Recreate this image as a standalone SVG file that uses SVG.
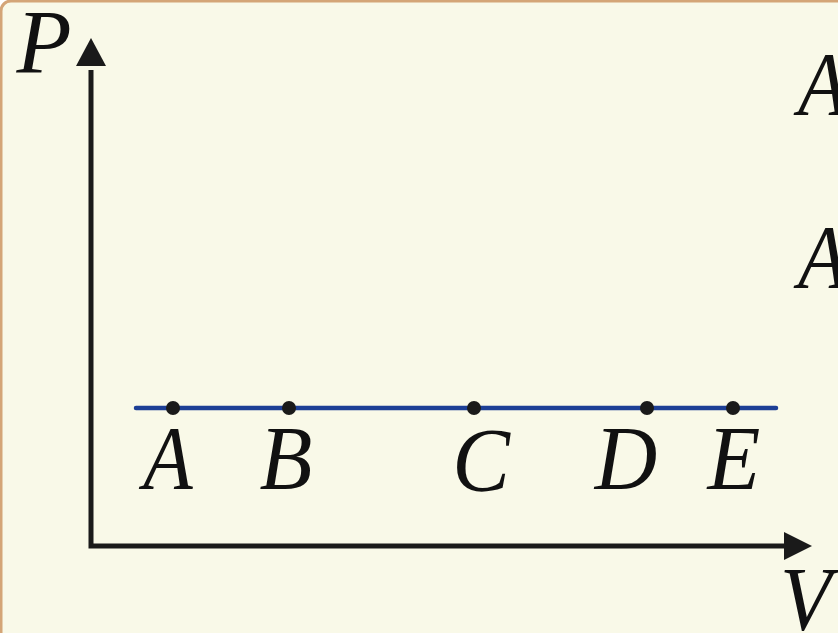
<svg xmlns="http://www.w3.org/2000/svg" width="838" height="633" viewBox="0 0 838 633">
<defs>
<style>
.axis{stroke:#1a1a1a;stroke-width:5;fill:none;}
.dot{fill:#1a1a1a;}
</style>
</defs>
<rect x="1" y="1" width="850" height="650" rx="10" fill="#f9f9e8" stroke="#d4a577" stroke-width="3"/>
<g id="axes">
<polyline class="axis" points="91,70 91,546 790,546"/>
<path d="M91,38 L106,66 L76,66 Z" fill="#1a1a1a"/>
<path d="M812,546 L784,532 L784,560 Z" fill="#1a1a1a"/>
</g>
<g id="isobar">
<line x1="136" y1="408" x2="776" y2="408" stroke="#1d3f95" stroke-width="4.5" stroke-linecap="round"/>
</g>
<g font-family="Liberation Serif" font-style="italic" font-size="92" fill="#111">
<g id="A"><circle class="dot" cx="173" cy="408" r="7"/><text transform="translate(168,489) scale(0.88,1)" text-anchor="middle">A</text></g>
<g id="B"><circle class="dot" cx="289" cy="408" r="7"/><text transform="translate(286,489) scale(0.94,1)" text-anchor="middle">B</text></g>
<g id="C"><circle class="dot" cx="474" cy="408" r="7"/><text transform="translate(481,491) scale(0.94,1)" text-anchor="middle">C</text></g>
<g id="D"><circle class="dot" cx="647" cy="408" r="7"/><text transform="translate(626,489) scale(0.94,1)" text-anchor="middle">D</text></g>
<g id="E"><circle class="dot" cx="733" cy="408" r="7"/><text transform="translate(734,489) scale(0.94,1)" text-anchor="middle">E</text></g>
<text transform="translate(44,73) scale(0.98,1)" text-anchor="middle">P</text>
<text transform="translate(780,630) scale(0.92,1)">V</text>
<text transform="translate(798,115) scale(0.88,1)">A</text>
<text transform="translate(798,288) scale(0.88,1)">A</text>
</g>
</svg>
